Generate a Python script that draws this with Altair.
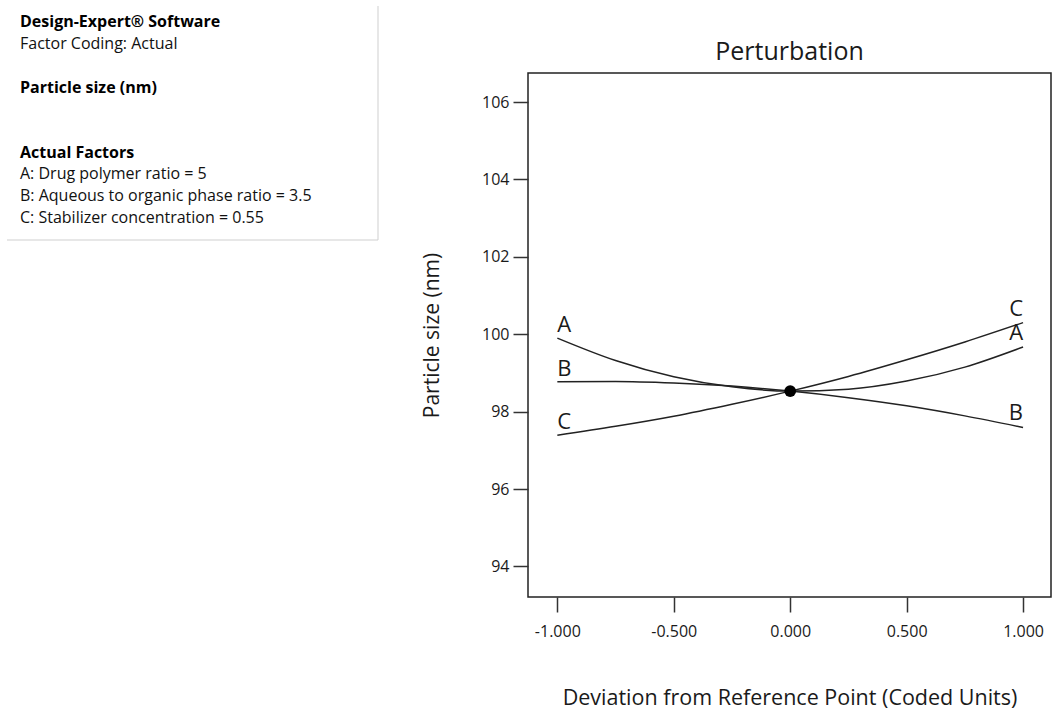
import altair as alt
import pandas as pd

# Coded deviation from the reference point
DEVIATION = [-1.0, -0.75, -0.5, -0.25, 0.0, 0.25, 0.5, 0.75, 1.0]

# Predicted particle size (nm) along each factor's perturbation trace
SIZE_A = [99.90, 99.32, 98.90, 98.64, 98.53, 98.58, 98.79, 99.15, 99.67]
SIZE_B = [98.77, 98.78, 98.74, 98.66, 98.53, 98.36, 98.15, 97.89, 97.59]
SIZE_C = [97.39, 97.62, 97.88, 98.19, 98.53, 98.91, 99.34, 99.80, 100.30]

FACTORS = ["A", "B", "C"]
REFERENCE_POINT = {"deviation": [0.0], "size": [98.53]}

Y_TICKS = [94, 96, 98, 100, 102, 104, 106]
X_TICKS = [-1.0, -0.5, 0.0, 0.5, 1.0]

CHART_TITLE = "Perturbation"
INFO_BOLD = ["Design-Expert® Software", "Particle size (nm)", "Actual Factors"]
INFO_PLAIN = [
    "Factor Coding: Actual",
    "A: Drug polymer ratio = 5",
    "B: Aqueous to  organic phase ratio = 3.5",
    "C: Stabilizer concentration = 0.55",
]

FONT = "Open Sans"
INK = "#1a1a1a"

# Plot-area geometry (pixels)
PAD_LEFT, PAD_TOP = 528, 73
PLOT_W, PLOT_H = 523, 524
TOTAL_W, TOTAL_H = 1052, 711

series = {"A": SIZE_A, "B": SIZE_B, "C": SIZE_C}
curves = pd.DataFrame(
    [
        {"factor": f, "deviation": d, "size": s}
        for f in FACTORS
        for d, s in zip(DEVIATION, series[f])
    ]
)

left_labels = pd.DataFrame(
    {"factor": FACTORS, "deviation": [DEVIATION[0]] * 3,
     "size": [series[f][0] for f in FACTORS]}
)
right_labels = pd.DataFrame(
    {"factor": FACTORS, "deviation": [DEVIATION[-1]] * 3,
     "size": [series[f][-1] for f in FACTORS]}
)

x_scale = alt.Scale(domain=[-1.126, 1.12], nice=False, zero=False)
y_scale = alt.Scale(domain=[93.21, 106.75], nice=False, zero=False)

x_axis = alt.Axis(
    values=X_TICKS,
    labelExpr="replace(format(datum.value, '.3f'), '\u2212', '-')",
    tickSize=15, tickWidth=1.5, tickColor="#333", domain=False, grid=False,
    labelFont=FONT, labelFontSize=16, labelColor=INK, labelPadding=11,
    title="Deviation from Reference Point (Coded Units)",
    titleFont=FONT, titleFontSize=21.5, titleFontWeight="normal", titleColor=INK,
    titleX=PLOT_W / 2, titleY=101, titleBaseline="middle", titleAlign="center",
)
y_axis = alt.Axis(
    values=Y_TICKS,
    tickSize=15, tickWidth=1.5, tickColor="#333", domain=False, grid=False,
    labelFont=FONT, labelFontSize=16, labelColor=INK, labelPadding=4,
    title="Particle size (nm)",
    titleFont=FONT, titleFontSize=21, titleFontWeight="normal", titleColor=INK,
    titleX=-96, titleY=PLOT_H / 2, titleAngle=-90,
    titleBaseline="middle", titleAlign="center",
)

lines = alt.Chart(curves).mark_line(
    color="#222", strokeWidth=1.5, interpolate="monotone"
).encode(
    x=alt.X("deviation:Q", scale=x_scale, axis=x_axis),
    y=alt.Y("size:Q", scale=y_scale, axis=y_axis),
    detail="factor:N",
)

ref_dot = alt.Chart(pd.DataFrame(REFERENCE_POINT)).mark_circle(
    color="black", opacity=1, size=140
).encode(x=alt.X("deviation:Q", scale=x_scale), y=alt.Y("size:Q", scale=y_scale))

lab_left = alt.Chart(left_labels).mark_text(
    align="left", baseline="alphabetic", dy=-6, font=FONT, fontSize=22, color=INK
).encode(
    x=alt.X("deviation:Q", scale=x_scale), y=alt.Y("size:Q", scale=y_scale),
    text="factor:N",
)
lab_right = alt.Chart(right_labels).mark_text(
    align="right", baseline="alphabetic", dy=-7, font=FONT, fontSize=22, color=INK
).encode(
    x=alt.X("deviation:Q", scale=x_scale), y=alt.Y("size:Q", scale=y_scale),
    text="factor:N",
)


# Page-pixel helpers: offsets relative to the plot origin
def px(x):
    return x - PAD_LEFT


def py(y):
    return y - PAD_TOP


dummy = pd.DataFrame({"k": [0]})

title_mark = alt.Chart(dummy).mark_text(
    align="center", baseline="alphabetic", font=FONT, fontSize=25,
    color=INK, text=CHART_TITLE,
).encode(x=alt.value(PLOT_W / 2), y=alt.value(-13))

# Info panel in the top-left corner
info_layers = []
bold_rows = [22, 88, 153]
plain_rows = [44, 174, 196, 218]
for text, row in zip(INFO_BOLD, bold_rows):
    info_layers.append(
        alt.Chart(dummy).mark_text(
            align="left", baseline="middle", font=FONT, fontSize=16,
            fontWeight="bold", color="black", text=text,
        ).encode(x=alt.value(px(20)), y=alt.value(py(row)))
    )
for text, row in zip(INFO_PLAIN, plain_rows):
    info_layers.append(
        alt.Chart(dummy).mark_text(
            align="left", baseline="middle", font=FONT, fontSize=16,
            color="#111", text=text,
        ).encode(x=alt.value(px(20)), y=alt.value(py(row)))
    )

box_right = alt.Chart(dummy).mark_rule(color="#cfcfcf", strokeWidth=1).encode(
    x=alt.value(px(378)), y=alt.value(py(6)), y2=alt.value(py(240))
)
box_bottom = alt.Chart(dummy).mark_rule(color="#cfcfcf", strokeWidth=1).encode(
    x=alt.value(px(7)), x2=alt.value(px(378)), y=alt.value(py(240))
)

chart = alt.layer(
    lines, ref_dot, lab_left, lab_right, title_mark,
    box_right, box_bottom, *info_layers
).properties(
    width=PLOT_W,
    height=PLOT_H,
    autosize=alt.AutoSizeParams(type="none"),
    padding={"left": PAD_LEFT, "top": PAD_TOP,
             "right": TOTAL_W - PAD_LEFT - PLOT_W,
             "bottom": TOTAL_H - PAD_TOP - PLOT_H},
    background="white",
).configure_view(
    stroke="#222", strokeWidth=1.5
)

chart.save("out.html", embed_options={"renderer": "svg", "actions": False})
